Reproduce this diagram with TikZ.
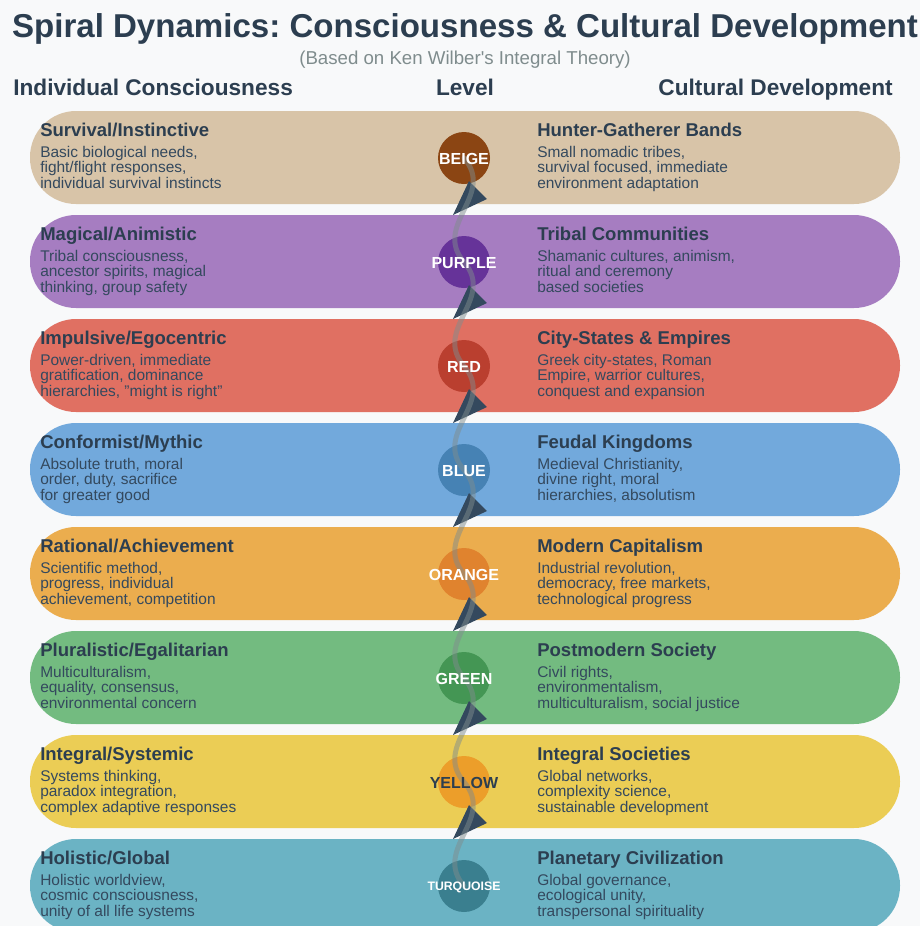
\documentclass[tikz,border=0pt]{standalone}
\usepackage{fontspec}
\setmainfont{Liberation Sans}

\definecolor{pagebg}{HTML}{F8F9FA}
\definecolor{ink}{HTML}{2C3E50}
\definecolor{inksoft}{HTML}{34495E}
\definecolor{subgray}{HTML}{7F8C8D}
\definecolor{beigeband}{HTML}{D8C4A8}
\definecolor{beigedot}{HTML}{8B4513}
\definecolor{purpleband}{HTML}{A67DC1}
\definecolor{purpledot}{HTML}{663399}
\definecolor{redband}{HTML}{E07062}
\definecolor{reddot}{HTML}{BA3F2F}
\definecolor{blueband}{HTML}{72A9DC}
\definecolor{bluedot}{HTML}{4682B4}
\definecolor{orangeband}{HTML}{EBAD4E}
\definecolor{orangedot}{HTML}{E0832E}
\definecolor{greenband}{HTML}{73BB80}
\definecolor{greendot}{HTML}{449654}
\definecolor{yellowband}{HTML}{EBCD55}
\definecolor{yellowdot}{HTML}{EC9E2A}
\definecolor{turqband}{HTML}{6BB3C4}
\definecolor{turqdot}{HTML}{3A7F8F}

\begin{document}
\frenchspacing
\begin{tikzpicture}[x=0.75pt, y=-0.75pt, line cap=round, line join=round,
    band/.style={minimum width=652.5pt, minimum height=69.75pt, rounded corners=34.5pt, inner sep=0pt},
    dot/.style={circle, minimum size=39pt, inner sep=0pt},
    dotlabel/.style={text=white, font=\fontsize{12}{12}\selectfont\bfseries, inner sep=0pt, yshift=-0.9pt},
    head/.style={anchor=base west, text=ink, inner sep=0pt, font=\fontsize{13.9}{14}\selectfont\bfseries},
    desc/.style={anchor=base west, align=left, text=inksoft, inner sep=0pt, font=\fontsize{11.6}{11.3}\selectfont},
    colhead/.style={anchor=base, text=ink, inner sep=0pt, font=\fontsize{17}{17}\selectfont\bfseries},
    wave/.style={draw=subgray, draw opacity=0.5, line width=3.75pt},
    tipfill/.style={fill=inksoft}]

    % --- page and margins ---
    \fill[pagebg] (0,0) rectangle (920,926);
    \useasboundingbox (0,0) rectangle (920,926);
    \clip (0,0) rectangle (920,926);

    % --- title and column heads ---
    \node[anchor=base, text=ink, inner sep=0pt, font=\fontsize{24.8}{25}\selectfont\bfseries] (title) at (465,37) {Spiral Dynamics: Consciousness \& Cultural Development};
    \node[anchor=base, text=subgray, inner sep=0pt, font=\fontsize{14}{14}\selectfont] (subtitle) at (465,64) {(Based on Ken Wilber\textquotesingle s Integral Theory)};
    \node[colhead, anchor=base west] (indiv) at (13,95) {Individual Consciousness};
    \node[colhead] (level) at (465,95) {Level};
    \node[colhead, anchor=base east] (cult) at (893,95) {Cultural Development};

    % --- bands ---
    \node[band, fill=beigeband] (b1) at (465,157.5) {};
    \node[band, fill=purpleband] (b2) at (465,261.5) {};
    \node[band, fill=redband] (b3) at (465,365.5) {};
    \node[band, fill=blueband] (b4) at (465,469.5) {};
    \node[band, fill=orangeband] (b5) at (465,573.5) {};
    \node[band, fill=greenband] (b6) at (465,677.5) {};
    \node[band, fill=yellowband] (b7) at (465,781.5) {};
    \node[band, fill=turqband] (b8) at (465,885.5) {};

    % --- level dots ---
    \node[dot, fill=beigedot] (beige) at (464,158) {};
    \node[dot, fill=purpledot] (purple) at (464,262) {};
    \node[dot, fill=reddot] (red) at (464,366) {};
    \node[dot, fill=bluedot] (blue) at (464,470) {};
    \node[dot, fill=orangedot] (orange) at (464,574) {};
    \node[dot, fill=greendot] (green) at (464,678) {};
    \node[dot, fill=yellowdot] (yellow) at (464,782) {};
    \node[dot, fill=turqdot] (turq) at (464,886) {};

    % --- arrow heads between levels ---
    \fill[tipfill] (beige.center) ++(5,23) -- ++(18,18) -- ++(-34,16) -- cycle;
    \fill[tipfill] (purple.center) ++(5,23) -- ++(18,18) -- ++(-34,16) -- cycle;
    \fill[tipfill] (red.center) ++(5,23) -- ++(18,18) -- ++(-34,16) -- cycle;
    \fill[tipfill] (blue.center) ++(5,23) -- ++(18,18) -- ++(-34,16) -- cycle;
    \fill[tipfill] (orange.center) ++(5,23) -- ++(18,18) -- ++(-34,16) -- cycle;
    \fill[tipfill] (green.center) ++(5,23) -- ++(18,18) -- ++(-34,16) -- cycle;
    \fill[tipfill] (yellow.center) ++(5,23) -- ++(18,18) -- ++(-34,16) -- cycle;

    % --- spiral line ---
    \draw[wave] (beige.center) .. controls +(32,37) and +(-32,-37) .. (purple.center)
        .. controls +(32,37) and +(-32,-37) .. (red.center)
        .. controls +(32,37) and +(-32,-37) .. (blue.center)
        .. controls +(32,37) and +(-32,-37) .. (orange.center)
        .. controls +(32,37) and +(-32,-37) .. (green.center)
        .. controls +(32,37) and +(-32,-37) .. (yellow.center)
        .. controls +(32,37) and +(-32,-37) .. (turq.center);

    % --- dot labels ---
    \node[dotlabel] (beigetxt) at (beige) {BEIGE};
    \node[dotlabel] (purpletxt) at (purple) {PURPLE};
    \node[dotlabel] (redtxt) at (red) {RED};
    \node[dotlabel] (bluetxt) at (blue) {BLUE};
    \node[dotlabel] (orangetxt) at (orange) {ORANGE};
    \node[dotlabel] (greentxt) at (green) {GREEN};
    \node[dotlabel, text=ink] (yellowtxt) at (yellow) {YELLOW};
    \node[dotlabel, font=\fontsize{9.2}{9.2}\selectfont\bfseries] (turqtxt) at (turq) {TURQUOISE};

    % --- individual consciousness (left) ---
    \node[head] (l1) at (40,136) {Survival/Instinctive};
    \node[desc] (ld1) at (40,188) {Basic biological needs,\\fight/flight responses,\\individual survival instincts};
    \node[head] (l2) at (40,240) {Magical/Animistic};
    \node[desc] (ld2) at (40,292) {Tribal consciousness,\\ancestor spirits, magical\\thinking, group safety};
    \node[head] (l3) at (40,344) {Impulsive/Egocentric};
    \node[desc] (ld3) at (40,396) {Power-driven, immediate\\gratification, dominance\\hierarchies, "might is right"};
    \node[head] (l4) at (40,448) {Conformist/Mythic};
    \node[desc] (ld4) at (40,500) {Absolute truth, moral\\order, duty, sacrifice\\for greater good};
    \node[head] (l5) at (40,552) {Rational/Achievement};
    \node[desc] (ld5) at (40,604) {Scientific method,\\progress, individual\\achievement, competition};
    \node[head] (l6) at (40,656) {Pluralistic/Egalitarian};
    \node[desc] (ld6) at (40,708) {Multiculturalism,\\equality, consensus,\\environmental concern};
    \node[head] (l7) at (40,760) {Integral/Systemic};
    \node[desc] (ld7) at (40,812) {Systems thinking,\\paradox integration,\\complex adaptive responses};
    \node[head] (l8) at (40,864) {Holistic/Global};
    \node[desc] (ld8) at (40,916) {Holistic worldview,\\cosmic consciousness,\\unity of all life systems};

    % --- cultural development (right) ---
    \node[head] (r1) at (537,136) {Hunter-Gatherer Bands};
    \node[desc] (rd1) at (537,188) {Small nomadic tribes,\\survival focused, immediate\\environment adaptation};
    \node[head] (r2) at (537,240) {Tribal Communities};
    \node[desc] (rd2) at (537,292) {Shamanic cultures, animism,\\ritual and ceremony\\based societies};
    \node[head] (r3) at (537,344) {City-States \& Empires};
    \node[desc] (rd3) at (537,396) {Greek city-states, Roman\\Empire, warrior cultures,\\conquest and expansion};
    \node[head] (r4) at (537,448) {Feudal Kingdoms};
    \node[desc] (rd4) at (537,500) {Medieval Christianity,\\divine right, moral\\hierarchies, absolutism};
    \node[head] (r5) at (537,552) {Modern Capitalism};
    \node[desc] (rd5) at (537,604) {Industrial revolution,\\democracy, free markets,\\technological progress};
    \node[head] (r6) at (537,656) {Postmodern Society};
    \node[desc] (rd6) at (537,708) {Civil rights,\\environmentalism,\\multiculturalism, social justice};
    \node[head] (r7) at (537,760) {Integral Societies};
    \node[desc] (rd7) at (537,812) {Global networks,\\complexity science,\\sustainable development};
    \node[head] (r8) at (537,864) {Planetary Civilization};
    \node[desc] (rd8) at (537,916) {Global governance,\\ecological unity,\\transpersonal spirituality};

\end{tikzpicture}
\end{document}
